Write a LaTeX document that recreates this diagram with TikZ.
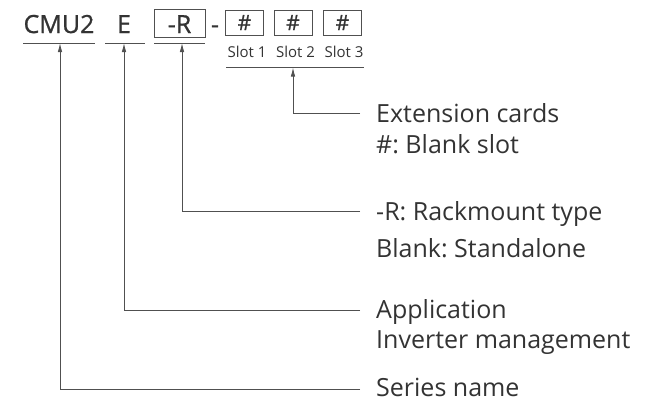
\documentclass[tikz,border=0pt]{standalone}
\usepackage{fontspec}
\setmainfont{Open Sans}
\newfontfamily\codefont{Open Sans}[FakeBold=0.9]
\usetikzlibrary{arrows.meta}
\definecolor{ink}{HTML}{333333}
\definecolor{wire}{HTML}{505050}
\frenchspacing
\begin{document}
\begin{tikzpicture}[x=1pt,y=-1pt,
  txt/.style={inner sep=0pt, text=ink, font=\fontsize{25}{29}\selectfont, anchor=base west},
  code/.style={inner sep=0pt, text=ink, font=\codefont\fontsize{25}{30}\selectfont, anchor=base},
  slotbox/.style={draw=wire, line width=1pt, minimum width=38pt, minimum height=25pt, inner sep=0pt, text=ink, font=\codefont\fontsize{21}{24}\selectfont},
  slotlbl/.style={inner sep=0pt, text=ink, font=\fontsize{15}{17}\selectfont, anchor=base},
  wireline/.style={draw=wire, line width=0.9pt},
  arr/.style={wireline, -{Latex[length=9pt,width=4.5pt]}},
]
\useasboundingbox (0,0) rectangle (648,400);
% code line
\node[code] (cmu) at (59,33) {CMU2};
\node[code] (e) at (124,33) {E};
\node[code, draw=wire, line width=1pt, minimum width=51pt, text height=24pt, text depth=4pt, inner xsep=0pt] (r) at (179.5,33) {-R};
\node[code] (sep) at (215,33) {-};
\node[slotbox] (s1) at (244.5,22.5) {\#};
\node[slotbox] (s2) at (293,22.5) {\#};
\node[slotbox] (s3) at (342.5,22.5) {\#};
\node[slotlbl] (l1) at (247,57) {Slot 1};
\node[slotlbl] (l2) at (295.5,57) {Slot 2};
\node[slotlbl] (l3) at (344,57) {Slot 3};
% underlines
\coordinate (cmuL) at (23,43); \coordinate (cmuR) at (95,43);
\coordinate (eL) at (105,43); \coordinate (eR) at (145,43);
\coordinate (rL) at (154,43); \coordinate (rR) at (205,43);
\coordinate (slL) at (226,67.5); \coordinate (slR) at (364,67.5);
\draw[wireline] (cmuL) -- (cmuR);
\draw[wireline] (eL) -- (eR);
\draw[wireline] (rL) -- (rR);
\draw[wireline] (slL) -- (slR);
% arrow tips
\coordinate (cmuT) at (60,43);
\coordinate (eT) at (124,43);
\coordinate (rT) at (182,43);
\coordinate (slT) at (293,67.5);
% connector ends
\coordinate (extE) at (360,113);
\coordinate (rackE) at (360,211);
\coordinate (appE) at (360,310);
\coordinate (serE) at (360,389);
\draw[arr] (extE) -| (slT);
\draw[arr] (rackE) -| (rT);
\draw[arr] (appE) -| (eT);
\draw[arr] (serE) -| (cmuT);
% labels
\node[txt] (ext1) at (376,122) {Extension cards};
\node[txt] (ext2) at (376,153) {\#: Blank slot};
\node[txt] (rack1) at (376,220) {-R: Rackmount type};
\node[txt] (rack2) at (376,257.5) {Blank: Standalone};
\node[txt] (app1) at (376,318) {Application};
\node[txt] (app2) at (376,348) {Inverter management};
\node[txt] (ser) at (376,396) {Series name};
\end{tikzpicture}
\end{document}
